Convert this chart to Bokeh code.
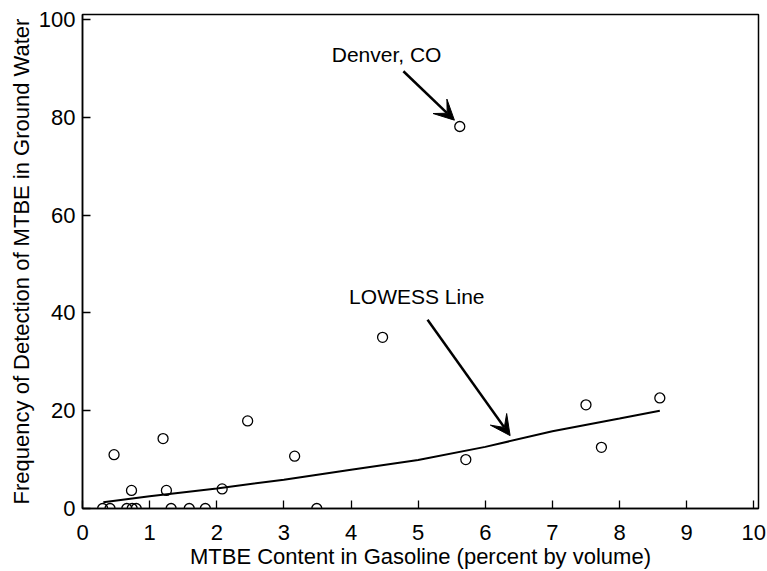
from bokeh.plotting import figure
from bokeh.models import Range1d, FixedTicker, Arrow, VeeHead, Label
from bokeh.embed import file_html
from bokeh.resources import INLINE

# Data
mtbe_content = [0.30, 0.41, 0.47, 0.66, 0.74, 0.80, 0.73, 1.20, 1.25, 1.32, 1.59,
                1.83, 2.08, 2.46, 3.16, 3.49, 4.47, 5.62, 5.71, 7.50, 7.73, 8.60]
detection_freq = [0.0, 0.0, 11.0, 0.0, 0.0, 0.0, 3.7, 14.3, 3.7, 0.0, 0.0,
                  0.0, 4.0, 17.9, 10.7, 0.0, 35.0, 78.1, 10.0, 21.2, 12.5, 22.6]

lowess_x = [0.31, 1.0, 2.0, 3.0, 4.0, 5.0, 6.0, 7.0, 8.0, 8.6]
lowess_y = [1.3, 2.5, 4.1, 5.9, 7.9, 9.9, 12.6, 15.8, 18.4, 20.0]

x_ticks = [0, 1, 2, 3, 4, 5, 6, 7, 8, 9, 10]
y_ticks = [0, 20, 40, 60, 80, 100]

# Annotation anchors (data units)
denver_label = (4.53, 92.8, "Denver, CO")
denver_arrow = (4.78, 89.4, 5.54, 79.4)
lowess_label = (4.98, 43.4, "LOWESS Line")
lowess_arrow = (5.14, 38.6, 6.37, 14.9)

FONT = "Liberation Sans"

p = figure(width=767, height=571, output_backend="svg", toolbar_location=None,
           x_range=Range1d(0, 10.07), y_range=Range1d(0, 101),
           min_border_left=82, min_border_right=9, min_border_top=14, min_border_bottom=63)
p.background_fill_color = "white"
p.border_fill_color = "white"
p.grid.visible = False
p.outline_line_color = "black"
p.outline_line_width = 1.5

for ax in (p.xaxis[0], p.yaxis[0]):
    ax.axis_line_color = "black"
    ax.axis_line_width = 1.5
    ax.major_tick_in = 8
    ax.major_tick_out = 0
    ax.major_tick_line_width = 1.3
    ax.minor_tick_line_color = None
    ax.major_label_text_font = FONT
    ax.major_label_text_font_size = "22px"
    ax.major_label_text_color = "black"
    ax.axis_label_text_font = FONT
    ax.axis_label_text_font_size = "22px"
    ax.axis_label_text_font_style = "normal"
    ax.axis_label_text_color = "black"

p.xaxis.ticker = FixedTicker(ticks=x_ticks)
p.yaxis.ticker = FixedTicker(ticks=y_ticks)
p.xaxis.axis_label = "MTBE Content in Gasoline (percent by volume)"
p.yaxis.axis_label = "Frequency of Detection of MTBE in Ground Water"
p.xaxis.major_label_standoff = 16
p.yaxis.major_label_standoff = 7
p.xaxis.axis_label_standoff = 1
p.yaxis.axis_label_standoff = 2

p.line(lowess_x, lowess_y, line_color="black", line_width=2)
p.scatter(mtbe_content, detection_freq, marker="circle", size=10,
          fill_color=None, line_color="black", line_width=1.3)

for (xs, ys, xe, ye) in (denver_arrow, lowess_arrow):
    p.add_layout(Arrow(end=VeeHead(size=20, fill_color="black", line_color="black"),
                       x_start=xs, y_start=ys, x_end=xe, y_end=ye,
                       line_color="black", line_width=2.5))

for (lx, ly, txt) in (denver_label, lowess_label):
    p.add_layout(Label(x=lx, y=ly, text=txt, text_align="center", text_baseline="middle",
                       text_font=FONT, text_font_size="21px", text_color="black"))

open("out.html", "w").write(file_html(p, INLINE))
